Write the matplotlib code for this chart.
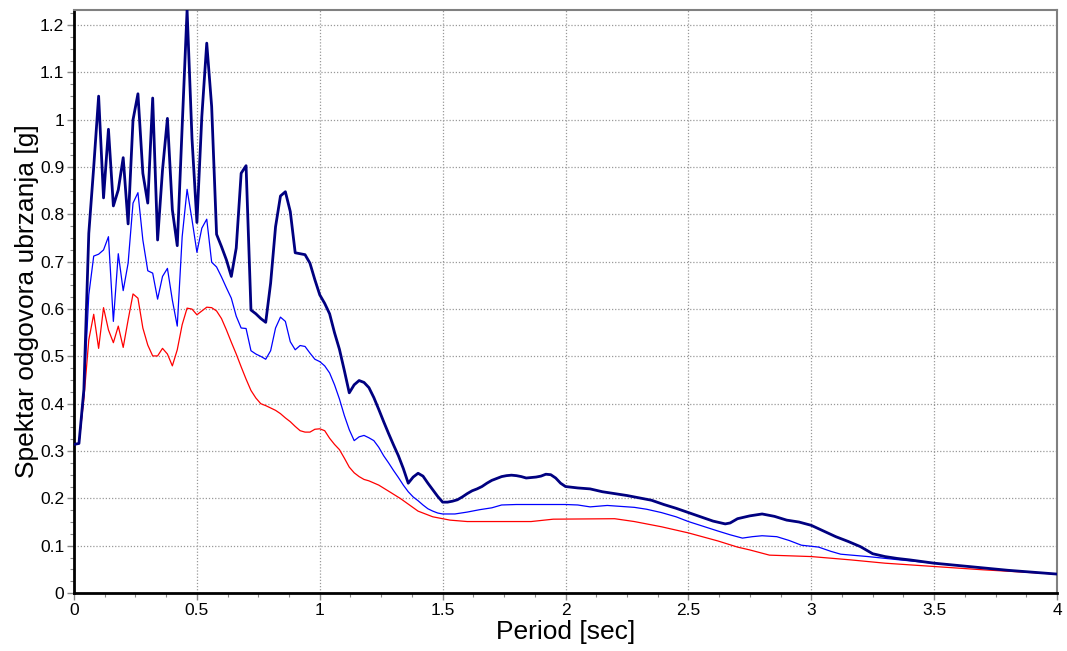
import matplotlib
matplotlib.use("Agg")
import matplotlib.pyplot as plt
from matplotlib.ticker import MultipleLocator, FuncFormatter

plt.rcParams['font.family'] = ['Liberation Sans', 'DejaVu Sans']

# ---- data ----
period_early = [0.00, 0.02, 0.04, 0.06, 0.08, 0.10, 0.12, 0.14, 0.16, 0.18,
                0.20, 0.22, 0.24, 0.26, 0.28, 0.30, 0.32, 0.34, 0.36, 0.38,
                0.40, 0.42, 0.44, 0.46, 0.48, 0.50, 0.52, 0.54, 0.56, 0.58,
                0.60, 0.62, 0.64, 0.66, 0.68, 0.70, 0.72, 0.74, 0.76, 0.78,
                0.80, 0.82, 0.84, 0.86, 0.88, 0.90, 0.92, 0.94, 0.96, 0.98,
                1.00, 1.02, 1.04, 1.06, 1.08, 1.10, 1.12, 1.14, 1.16, 1.18,
                1.20]

navy_early = [0.314, 0.316, 0.43, 0.76, 0.90, 1.05, 0.835, 0.98, 0.818, 0.852,
              0.92, 0.78, 1.00, 1.055, 0.887, 0.824, 1.046, 0.746, 0.894, 1.003,
              0.81, 0.734, 0.986, 1.232, 0.96, 0.783, 1.007, 1.162, 1.028, 0.758,
              0.732, 0.704, 0.669, 0.729, 0.887, 0.903, 0.598, 0.59, 0.58, 0.572,
              0.655, 0.774, 0.839, 0.848, 0.806, 0.719, 0.717, 0.715, 0.697, 0.662,
              0.630, 0.612, 0.59, 0.55, 0.515, 0.47, 0.423, 0.44, 0.449, 0.445,
              0.434]
navy_late_period = [1.22, 1.24, 1.26, 1.28, 1.30, 1.32, 1.34, 1.36, 1.38, 1.40,
                    1.42, 1.44, 1.46, 1.48, 1.50, 1.52, 1.54, 1.56, 1.58, 1.60,
                    1.62, 1.64, 1.66, 1.68, 1.70, 1.72, 1.74, 1.76, 1.78, 1.80,
                    1.82, 1.84, 1.86, 1.88, 1.90, 1.92, 1.94, 1.96, 1.98, 2.00,
                    2.05, 2.10, 2.15, 2.20, 2.25, 2.30, 2.35, 2.40, 2.45, 2.50,
                    2.55, 2.60, 2.65, 2.67, 2.70, 2.75, 2.80, 2.85, 2.90, 2.95,
                    3.00, 3.05, 3.10, 3.15, 3.20, 3.25, 3.30, 3.35, 3.40, 3.50,
                    3.60, 3.70, 3.80, 3.90, 4.00]
navy_late = [0.413, 0.388, 0.362, 0.337, 0.313, 0.29, 0.263, 0.232, 0.245, 0.253,
             0.247, 0.232, 0.218, 0.204, 0.192, 0.192, 0.194, 0.197, 0.203, 0.21,
             0.216, 0.22, 0.225, 0.232, 0.238, 0.242, 0.246, 0.248, 0.249, 0.248,
             0.246, 0.243, 0.244, 0.245, 0.247, 0.251, 0.250, 0.243, 0.232, 0.225,
             0.222, 0.22, 0.214, 0.21, 0.206, 0.201, 0.196, 0.187, 0.179, 0.170,
             0.161, 0.152, 0.146, 0.148, 0.157, 0.163, 0.167, 0.162, 0.154, 0.150,
             0.143, 0.131, 0.119, 0.109, 0.098, 0.083, 0.077, 0.073, 0.070, 0.063,
             0.058, 0.053, 0.048, 0.044, 0.040]

blue_early = [0.314, 0.316, 0.42, 0.63, 0.712, 0.716, 0.725, 0.753, 0.574, 0.717,
              0.639, 0.697, 0.824, 0.846, 0.746, 0.681, 0.676, 0.621, 0.669, 0.686,
              0.619, 0.564, 0.753, 0.853, 0.789, 0.720, 0.771, 0.790, 0.699, 0.689,
              0.668, 0.645, 0.623, 0.585, 0.560, 0.559, 0.512, 0.505, 0.500, 0.494,
              0.512, 0.560, 0.583, 0.574, 0.531, 0.514, 0.523, 0.521, 0.507, 0.494,
              0.489, 0.480, 0.465, 0.440, 0.41, 0.375, 0.345, 0.322, 0.33, 0.333,
              0.328]
blue_late_period = [1.22, 1.24, 1.26, 1.28, 1.30, 1.32, 1.34, 1.36, 1.38, 1.40,
                    1.42, 1.44, 1.46, 1.48, 1.50, 1.55, 1.60, 1.65, 1.70, 1.74,
                    1.80, 1.90, 2.00, 2.05, 2.10, 2.17, 2.28, 2.33, 2.39, 2.45,
                    2.50, 2.56, 2.62, 2.67, 2.72, 2.76, 2.80, 2.86, 2.91, 2.96,
                    3.03, 3.08, 3.12, 3.23, 3.36, 3.50, 3.64, 3.77, 4.00]
blue_late = [0.322, 0.308, 0.29, 0.275, 0.259, 0.244, 0.228, 0.214, 0.203, 0.195,
             0.186, 0.178, 0.173, 0.169, 0.167, 0.167, 0.171, 0.176, 0.180, 0.186,
             0.187, 0.187, 0.187, 0.186, 0.182, 0.185, 0.181, 0.177, 0.170, 0.161,
             0.151, 0.141, 0.131, 0.123, 0.116, 0.119, 0.121, 0.119, 0.111, 0.101,
             0.097, 0.088, 0.082, 0.077, 0.070, 0.063, 0.056, 0.049, 0.040]

red_early = [0.314, 0.316, 0.41, 0.535, 0.589, 0.517, 0.603, 0.556, 0.529, 0.564,
             0.519, 0.577, 0.632, 0.623, 0.560, 0.524, 0.501, 0.501, 0.517, 0.505,
             0.480, 0.514, 0.567, 0.602, 0.600, 0.588, 0.596, 0.604, 0.603, 0.596,
             0.580, 0.556, 0.53, 0.505, 0.478, 0.452, 0.428, 0.412, 0.400, 0.396,
             0.391, 0.386, 0.379, 0.370, 0.362, 0.352, 0.343, 0.340, 0.340, 0.346,
             0.347, 0.343, 0.327, 0.314, 0.303, 0.285, 0.266, 0.254, 0.246, 0.240,
             0.237]
red_late_period = [1.24, 1.29, 1.33, 1.40, 1.46, 1.53, 1.60, 1.86, 1.95, 2.20,
                   2.28, 2.39, 2.50, 2.62, 2.70, 2.75, 2.83, 3.00, 3.16, 3.30,
                   3.50, 3.70, 4.00]
red_late = [0.228, 0.212, 0.199, 0.173, 0.161, 0.154, 0.151, 0.151, 0.156, 0.157,
            0.151, 0.140, 0.127, 0.110, 0.097, 0.091, 0.080, 0.077, 0.070, 0.063,
            0.056, 0.049, 0.040]

x_ticks = [0, 0.5, 1, 1.5, 2, 2.5, 3, 3.5, 4]
y_ticks = [0, 0.1, 0.2, 0.3, 0.4, 0.5, 0.6, 0.7, 0.8, 0.9, 1.0, 1.1, 1.2]

# ---- figure ----
fig = plt.figure(figsize=(10.67, 6.51), dpi=100)
ax = fig.add_axes([0.0694, 0.0891, 0.9212, 0.8955])

ax.plot(period_early + red_late_period, red_early + red_late,
        color='#ff0000', lw=0.9, zorder=3)
ax.plot(period_early + blue_late_period, blue_early + blue_late,
        color='#0000ff', lw=0.9, zorder=4)
ax.plot(period_early + navy_late_period, navy_early + navy_late,
        color='#000080', lw=2.0, zorder=5)

ax.set_xlim(0, 4)
ax.set_ylim(0, 1.232)
ax.set_xticks(x_ticks)
ax.set_yticks(y_ticks)
ax.xaxis.set_minor_locator(MultipleLocator(0.125))
ax.yaxis.set_minor_locator(MultipleLocator(0.025))
fmt = FuncFormatter(lambda v, p: ('%g' % round(v, 3)))
ax.xaxis.set_major_formatter(fmt)
ax.yaxis.set_major_formatter(fmt)

ax.grid(True, which='major', color='#999999', linestyle=(0, (1, 1.5)), lw=0.9)
ax.set_axisbelow(True)

ax.tick_params(axis='both', which='major', direction='out', length=5,
               width=1.0, color='#888888', labelsize=12.5, pad=2)
ax.tick_params(axis='both', which='minor', direction='out', length=3,
               width=0.8, color='#888888')

for s in ['left', 'bottom']:
    ax.spines[s].set_color('black')
    ax.spines[s].set_linewidth(2.0)
for s in ['top', 'right']:
    ax.spines[s].set_color('#808080')
    ax.spines[s].set_linewidth(1.5)

ax.set_xlabel('Period [sec]', fontsize=19, labelpad=2)
ax.set_ylabel('Spektar odgovora ubrzanja [g]', fontsize=19, labelpad=1)

fig.savefig('out.png', dpi=100)
